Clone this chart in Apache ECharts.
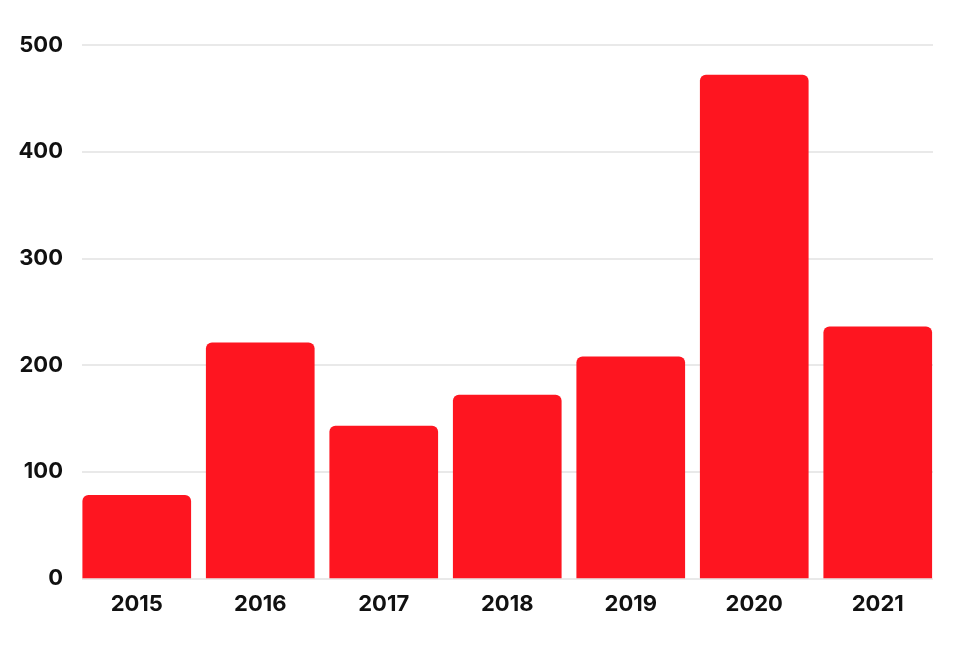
<!DOCTYPE html>
<html>
<head>
<meta charset="utf-8">
<script src="https://cdn.jsdelivr.net/npm/echarts@6/dist/echarts.min.js"></script>
<style>html,body{margin:0;padding:0;background:#fff}#c{width:960px;height:651px}</style>
</head>
<body>
<div id="c"></div>
<script>
const categories = ['2015','2016','2017','2018','2019','2020','2021'];
const values = [78, 221, 143, 172, 208, 472, 236];
const yTicks = [0, 100, 200, 300, 400, 500];

const chart = echarts.init(document.getElementById('c'), null, {renderer:'canvas'});
const font = 'Inter, "Open Sans", sans-serif';
chart.setOption({
  animation: false,
  backgroundColor: '#ffffff',
  grid: [
    {left: 82, right: 27, top: 45, bottom: 72.7},
    {left: 75, right: 20.5, top: 45, bottom: 72.7}
  ],
  xAxis: [
    {gridIndex: 0, type: 'category', data: categories, show: false},
    {gridIndex: 1, type: 'category', data: categories,
     axisLine: {show: false}, axisTick: {show: false},
     axisLabel: {color: '#111', fontFamily: font, fontWeight: 'bold', fontSize: 22, margin: 15}}
  ],
  yAxis: [
    {gridIndex: 0, type: 'value', min: yTicks[0], max: yTicks[yTicks.length-1], interval: 100,
     axisLine: {show: false}, axisTick: {show: false},
     axisLabel: {color: '#111', fontFamily: font, fontWeight: 'bold', fontSize: 22, margin: 19},
     splitLine: {lineStyle: {color: '#e2e2e2', width: 1.5}}},
    {gridIndex: 1, type: 'value', min: yTicks[0], max: yTicks[yTicks.length-1], interval: 100, show: false,
     splitLine: {show: false}}
  ],
  series: [{
    type: 'bar', xAxisIndex: 1, yAxisIndex: 1, data: values,
    barCategoryGap: '12%',
    itemStyle: {color: '#fe1520', borderRadius: [6, 6, 0, 0]}
  }]
});
</script>
</body>
</html>
